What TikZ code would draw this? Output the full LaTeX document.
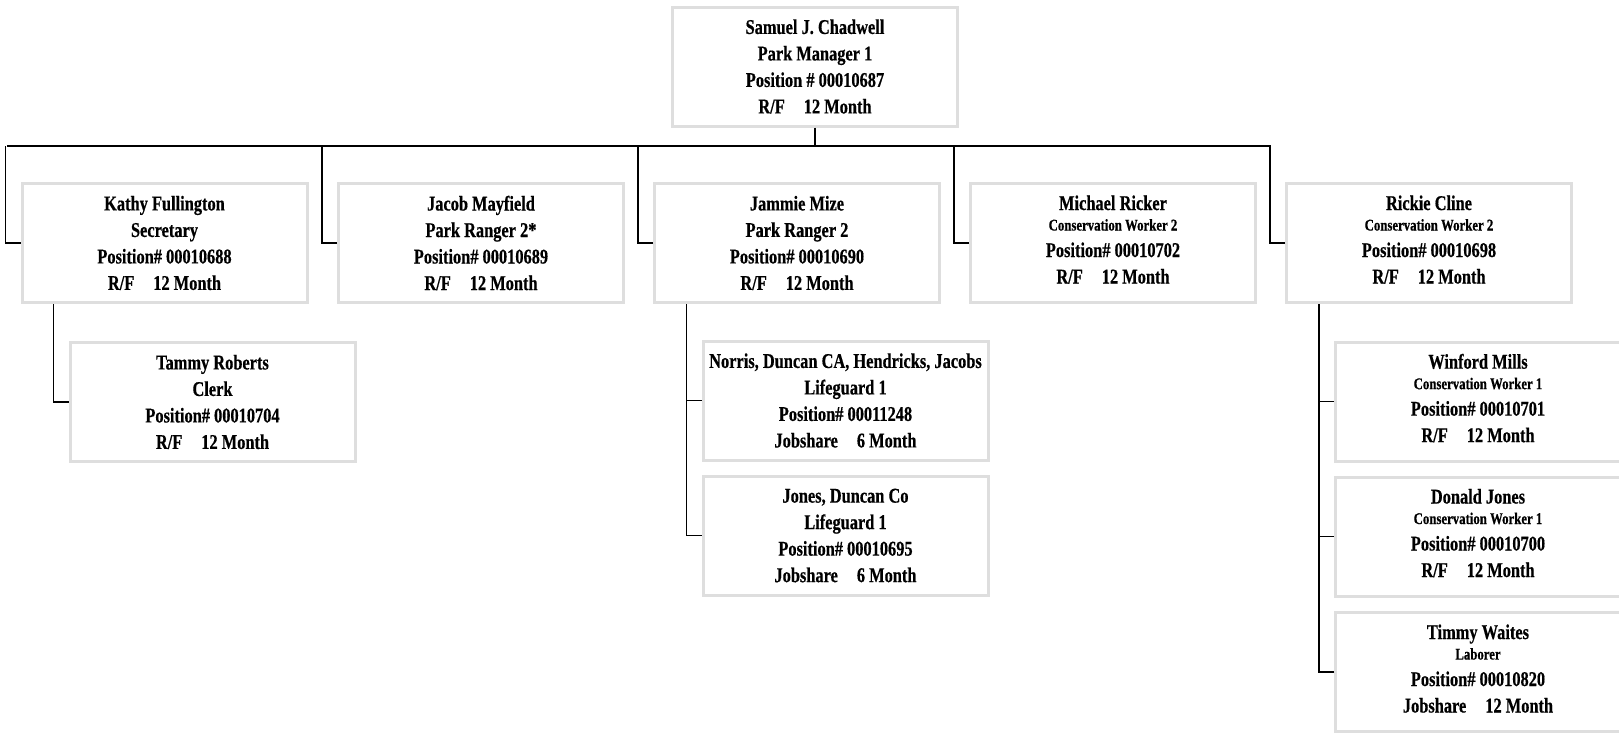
\documentclass[tikz,border=0pt]{standalone}
\usepackage{fontspec}
\newfontfamily\orgfont[FakeStretch=0.78,FakeBold=0.5]{Liberation Serif}
\newcommand{\gapRF}{\hspace{9.5pt}}
\newcommand{\jobtitle}[1]{{\fontsize{8.2}{13.25}\selectfont #1}}
\begin{document}
\begin{tikzpicture}[x=0.5pt,y=-0.5pt,
    posbox/.style={draw=black!13, line width=1.5pt, minimum width=142.5pt, minimum height=59.5pt,
        inner sep=0pt, align=center, font=\orgfont\bfseries\fontsize{10.5}{13.25}\selectfont},
    smallbox/.style={posbox, text depth=3.5pt},
    link/.style={draw=black, line width=0.8pt}]
    \useasboundingbox (0,0) rectangle (1619,734);
    % manager
    \node[posbox] (mgr) at (815,66.5) {Samuel J. Chadwell\\Park Manager 1\\Position \# 00010687\\R/F\gapRF 12 Month};
    % first level
    \node[posbox] (sec) at (164.5,243) {Kathy Fullington\\Secretary\\Position\# 00010688\\R/F\gapRF 12 Month};
    \node[posbox] (rgr) at (481,243) {Jacob Mayfield\\Park Ranger 2*\\Position\# 00010689\\R/F\gapRF 12 Month};
    \node[posbox] (pr2) at (797,243) {Jammie Mize\\Park Ranger 2\\Position\# 00010690\\R/F\gapRF 12 Month};
    \node[smallbox] (cwa) at (1113,243) {Michael Ricker\\[-3pt]\jobtitle{Conservation Worker 2}\\Position\# 00010702\\R/F\gapRF 12 Month};
    \node[smallbox] (cwb) at (1429,243) {Rickie Cline\\[-3pt]\jobtitle{Conservation Worker 2}\\Position\# 00010698\\R/F\gapRF 12 Month};
    % second level
    \node[posbox] (clerk) at (212.5,402) {Tammy Roberts\\Clerk\\Position\# 00010704\\R/F\gapRF 12 Month};
    \node[posbox] (lga) at (845.5,400.5) {Norris, Duncan CA, Hendricks, Jacobs\\Lifeguard 1\\Position\# 00011248\\Jobshare\gapRF 6 Month};
    \node[posbox] (lgb) at (845.5,535.5) {Jones, Duncan Co\\Lifeguard 1\\Position\# 00010695\\Jobshare\gapRF 6 Month};
    \node[smallbox] (cwc) at (1478,401.5) {Winford Mills\\[-3pt]\jobtitle{Conservation Worker 1}\\Position\# 00010701\\R/F\gapRF 12 Month};
    \node[smallbox] (cwd) at (1478,536.5) {Donald Jones\\[-3pt]\jobtitle{Conservation Worker 1}\\Position\# 00010700\\R/F\gapRF 12 Month};
    \node[smallbox] (lab) at (1478,672) {Timmy Waites\\[-3pt]\jobtitle{Laborer}\\Position\# 00010820\\Jobshare\gapRF 12 Month};
    % lines
    \coordinate (busL) at (7,146);
    \coordinate (busR) at (1271,146);
    \draw[link] (busL) -- (busR);
    \draw[link] (mgr.south) -- (mgr.south |- busL);
    \foreach \n in {sec,rgr,pr2,cwa,cwb}
        \draw[link] (\n.west) -- ++(-7.5pt,0) coordinate (d) -- (d |- busL);
    \draw[link] (clerk.west) -- ++(-7.5pt,0) coordinate (c) -- (c |- sec.south);
    \draw[link] (lga.west) -- ++(-7.5pt,0);
    \draw[link] (lgb.west) -- ++(-7.5pt,0) coordinate (c) -- (c |- pr2.south);
    \draw[link] (cwc.west) -- ++(-7.5pt,0);
    \draw[link] (cwd.west) -- ++(-7.5pt,0);
    \draw[link] (lab.west) -- ++(-7.5pt,0) coordinate (c) -- (c |- cwb.south);
\end{tikzpicture}
\end{document}
